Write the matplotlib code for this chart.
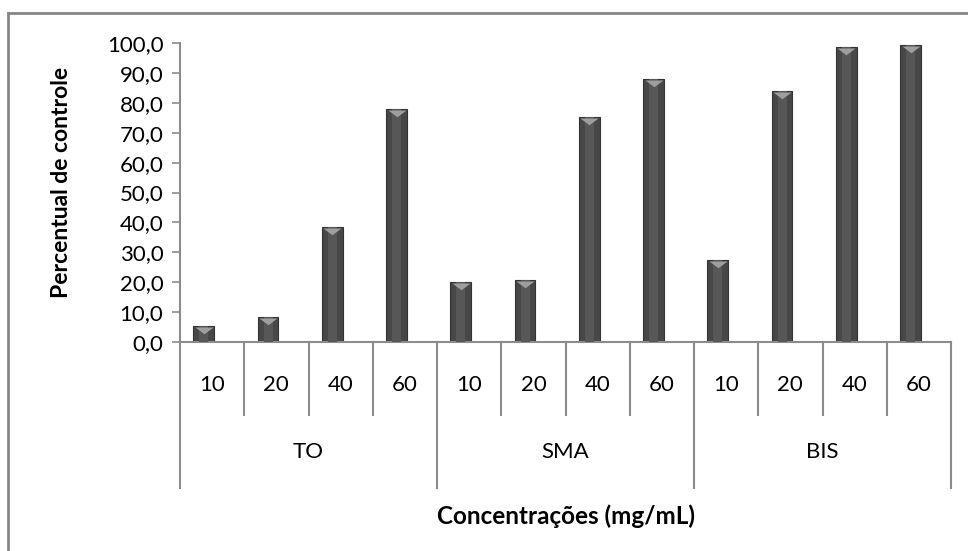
import numpy as np
import matplotlib
matplotlib.use("Agg")
import matplotlib.pyplot as plt
import matplotlib.transforms as mtransforms
from matplotlib.lines import Line2D

plt.rcParams['font.family'] = ['Lato', 'DejaVu Sans']

groups = ["TO", "SMA", "BIS"]
concs = ["10", "20", "40", "60"]
values = [5.4, 8.5, 38.4, 77.9,
          20.2, 20.9, 75.3, 88.1,
          27.4, 83.9, 98.6, 99.3]
yticks = np.arange(0, 101, 10)

W, H = 968, 551
fig = plt.figure(figsize=(W / 100, H / 100), dpi=100)

# plot area in pixels: x 180..951, y 43..342
x0, x1, ytop, ybot = 180, 951, 43, 342
ax = fig.add_axes([x0 / W, (H - ybot) / H, (x1 - x0) / W, (ybot - ytop) / H])

n = len(values)
# bars sit a little left of the category centre (3D shadow offset in the original)
x = np.arange(n) - 0.13
ax.bar(x, values, width=0.32, color='#474747', edgecolor='#333333', linewidth=0.8, zorder=2)
# lighter centre stripe to mimic the shaded bars
ax.bar(x, values, width=0.14, color='#575757', linewidth=0, zorder=3)
# light wedge on bar tops
wedge = [(-1, 0), (1, 0), (0, -0.75), (-1, 0)]
off = mtransforms.ScaledTranslation(0, -1 / 100, fig.dpi_scale_trans)
ax.plot(x, values, linestyle='none', marker=wedge, color='#9e9e9e', markersize=13,
        markeredgewidth=0, transform=ax.transData + off, zorder=4)

ax.set_xlim(-0.5, n - 0.5)
ax.set_ylim(0, 100)
ax.set_yticks(yticks)
ax.set_yticklabels([f"{v:.1f}".replace('.', ',') for v in yticks], fontsize=16)
ax.tick_params(axis='y', length=6, color='#8c8c8c', width=1.2, pad=6)
ax.set_xticks([])
for s in ['top', 'right']:
    ax.spines[s].set_visible(False)
for s in ['left', 'bottom']:
    ax.spines[s].set_color('#8c8c8c')
    ax.spines[s].set_linewidth(1.5)

px = 1.0 / (ybot - ytop)
trans = mtransforms.blended_transform_factory(ax.transData, ax.transAxes)
gray = '#8c8c8c'
# category separators
for i in range(n + 1):
    xb = i - 0.5
    if i % 4 == 0:
        yend = -(488 - ybot) * px
    else:
        yend = -(415 - ybot) * px
    ax.add_line(Line2D([xb, xb], [0, yend], color=gray, lw=1.5, transform=trans, clip_on=False))

for i in range(n):
    ax.text(i, -(385 - ybot) * px, concs[i % 4], transform=trans, ha='center', va='center', fontsize=16)
for g, name in enumerate(groups):
    ax.text(g * 4 + 1.5, -(452 - ybot) * px, name, transform=trans, ha='center', va='center', fontsize=16)

fig.text(566 / W, 1 - 516 / H, "Concentrações (mg/mL)", ha='center', va='center',
         fontsize=17.5, fontweight='bold')
fig.text(62 / W, 1 - 182 / H, "Percentual de controle", ha='center', va='center',
         rotation=90, fontsize=16.5, fontweight='bold')

# outer chart border (top and left visible)
fig.add_artist(Line2D([8 / W, 8 / W], [1 - 13 / H, 0], transform=fig.transFigure, color='#868686', lw=2))
fig.add_artist(Line2D([8 / W, 1], [1 - 13 / H, 1 - 13 / H], transform=fig.transFigure, color='#868686', lw=2))

fig.savefig("out.png", dpi=100)
